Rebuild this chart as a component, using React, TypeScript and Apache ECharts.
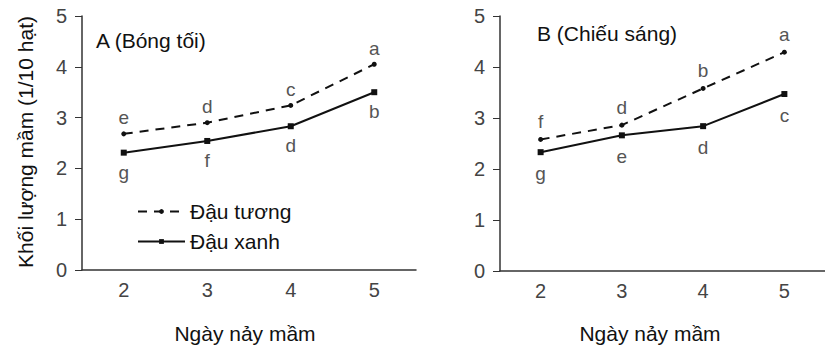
import React, { useEffect, useRef } from "react";
import * as echarts from "echarts";

const days = ["2", "3", "4", "5"];
const yTicks = [0, 1, 2, 3, 4, 5];
const darkSoy = [2.68, 2.9, 3.24, 4.05];
const darkMung = [2.31, 2.54, 2.83, 3.5];
const lightSoy = [2.58, 2.86, 3.58, 4.29];
const lightMung = [2.33, 2.66, 2.84, 3.47];
const darkSoyLetters = ["e", "d", "c", "a"];
const darkMungLetters = ["g", "f", "d", "b"];
const lightSoyLetters = ["f", "d", "b", "a"];
const lightMungLetters = ["g", "e", "d", "c"];

const FONT = "Liberation Sans, Arial, sans-serif";

export default function App() {
  const ref = useRef<HTMLDivElement>(null);
  useEffect(() => {
    if (!ref.current) return;
    const chart = echarts.init(ref.current, null, { renderer: "svg" });
    const mk = (vals: number[], letters: string[], pos: string, dist: number) =>
      vals.map((v, i) => ({
        value: v,
        label: {
          show: true,
          position: pos,
          distance: dist,
          formatter: letters[i],
          color: "#555",
          fontSize: 19,
          fontFamily: FONT,
        },
      }));
    const xAxisBase = (gi: number) => ({
      type: "category",
      gridIndex: gi,
      data: days,
      boundaryGap: true,
      axisLine: { lineStyle: { color: "#333", width: 1.5 } },
      axisTick: { alignWithLabel: true, length: 6, lineStyle: { color: "#333" } },
      axisLabel: { color: "#444", fontSize: 20, fontFamily: FONT, margin: 10 },
      splitLine: { show: false },
    });
    const yAxisBase = (gi: number) => ({
      type: "value",
      gridIndex: gi,
      min: yTicks[0],
      max: yTicks[yTicks.length - 1],
      interval: 1,
      axisLine: { show: true, lineStyle: { color: "#333", width: 1.5 } },
      axisTick: { show: true, length: 7, lineStyle: { color: "#333" } },
      axisLabel: { color: "#444", fontSize: 20, fontFamily: FONT, margin: 15 },
      splitLine: { show: false },
    });
    const soyStyle = {
      type: "line",
      name: "Đậu tương",
      symbol: "circle",
      symbolSize: 5,
      itemStyle: { color: "#111" },
      lineStyle: { color: "#111", width: 2, type: [9, 7] },
    };
    const mungStyle = {
      type: "line",
      name: "Đậu xanh",
      symbol: "rect",
      symbolSize: 6,
      itemStyle: { color: "#111" },
      lineStyle: { color: "#111", width: 2 },
    };
    chart.setOption({
      animation: false,
      grid: [
        { left: 82, top: 16, width: 334, height: 254 },
        { left: 500, top: 16, width: 335, height: 255 },
      ],
      xAxis: [xAxisBase(0), xAxisBase(1)],
      yAxis: [yAxisBase(0), yAxisBase(1)],
      legend: {
        orient: "vertical",
        left: 132,
        top: 196,
        itemWidth: 47,
        itemHeight: 6,
        itemGap: 9,
        textStyle: { color: "#111", fontSize: 21, fontFamily: FONT },
        data: [
          { name: "Đậu tương", itemStyle: { color: "#111" } },
          { name: "Đậu xanh", itemStyle: { color: "#111" } },
        ],
      },
      series: [
        { ...soyStyle, xAxisIndex: 0, yAxisIndex: 0, data: mk(darkSoy, darkSoyLetters, "top", 4) },
        { ...mungStyle, xAxisIndex: 0, yAxisIndex: 0, data: mk(darkMung, darkMungLetters, "bottom", 7) },
        { ...soyStyle, xAxisIndex: 1, yAxisIndex: 1, data: mk(lightSoy, lightSoyLetters, "top", 6) },
        { ...mungStyle, xAxisIndex: 1, yAxisIndex: 1, data: mk(lightMung, lightMungLetters, "bottom", 9) },
      ],
      graphic: [
        {
          type: "text",
          x: 96,
          y: 40,
          style: { text: "A (Bóng tối)", fontSize: 21, fontFamily: FONT, fill: "#111", verticalAlign: "middle" },
        },
        {
          type: "text",
          x: 537,
          y: 33,
          style: { text: "B (Chiếu sáng)", fontSize: 21, fontFamily: FONT, fill: "#111", verticalAlign: "middle" },
        },
        {
          type: "text",
          x: 25,
          y: 142,
          rotation: Math.PI / 2,
          style: {
            text: "Khối lượng mầm (1/10 hạt)",
            fontSize: 21,
            fontFamily: FONT,
            fill: "#111",
            align: "center",
            verticalAlign: "middle",
          },
        },
        {
          type: "text",
          x: 245,
          y: 333,
          style: { text: "Ngày nảy mầm", fontSize: 21, fontFamily: FONT, fill: "#111", align: "center", verticalAlign: "middle" },
        },
        {
          type: "text",
          x: 650,
          y: 333,
          style: { text: "Ngày nảy mầm", fontSize: 21, fontFamily: FONT, fill: "#111", align: "center", verticalAlign: "middle" },
        },
      ],
    });
    return () => chart.dispose();
  }, []);
  return <div ref={ref} style={{ width: 825, height: 349, position: "absolute", left: 0, top: 0 }} />;
}
